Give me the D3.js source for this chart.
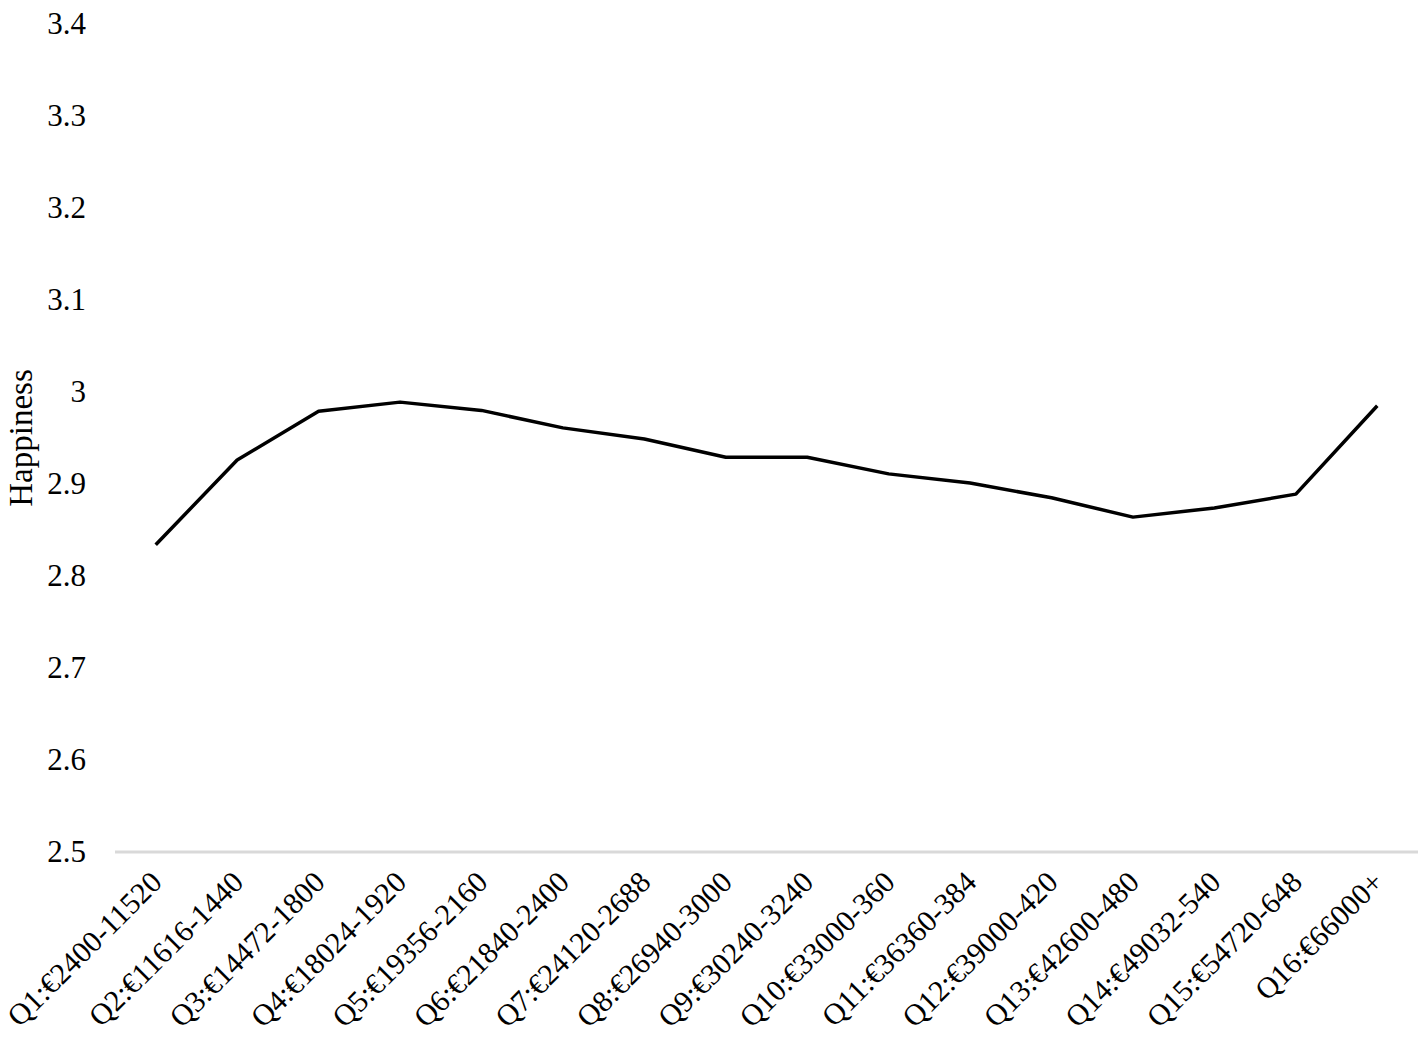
<!DOCTYPE html>
<html>
<head>
<meta charset="utf-8">
<script src="https://cdn.jsdelivr.net/npm/d3@7"></script>
<style>
  html, body { margin: 0; padding: 0; background: #fff; }
  svg { display: block; }
  text { font-family: "Liberation Serif", "Times New Roman", serif; fill: #000; }
</style>
</head>
<body>
<svg id="chart" width="1421" height="1042"></svg>
<script>
const categories = [
  "Q1:€2400-11520", "Q2:€11616-1440", "Q3:€14472-1800", "Q4:€18024-1920",
  "Q5:€19356-2160", "Q6:€21840-2400", "Q7:€24120-2688", "Q8:€26940-3000",
  "Q9:€30240-3240", "Q10:€33000-360", "Q11:€36360-384", "Q12:€39000-420",
  "Q13:€42600-480", "Q14:€49032-540", "Q15:€54720-648", "Q16:€66000+"
];
const happiness = [
  2.834, 2.926, 2.979, 2.989, 2.980, 2.961, 2.949, 2.929,
  2.929, 2.911, 2.901, 2.885, 2.864, 2.874, 2.889, 2.985
];
const yTicks = [2.5, 2.6, 2.7, 2.8, 2.9, 3.0, 3.1, 3.2, 3.3, 3.4];
const yTickLabels = ["2.5", "2.6", "2.7", "2.8", "2.9", "3", "3.1", "3.2", "3.3", "3.4"];
const yTitle = "Happiness";

(function () {
const svg = d3.select("#chart");
const mLeft = 115, mRight = 1418, mTop = 24, mBottom = 852;

const x = d3.scaleBand().domain(categories).range([mLeft, mRight]).padding(0);
const y = d3.scaleLinear().domain([2.5, 3.4]).range([mBottom, mTop]);

// Y axis labels (no line, no ticks)
const yAxis = d3.axisLeft(y).tickValues(yTicks)
  .tickFormat((d, i) => yTickLabels[i]).tickSize(0).tickPadding(29);
const gy = svg.append("g").attr("transform", `translate(${mLeft},0)`).call(yAxis);
gy.select(".domain").remove();
gy.selectAll("text").attr("font-family", "Liberation Serif").attr("font-size", 31).attr("fill", "#000");

// Baseline
svg.append("line")
  .attr("x1", mLeft).attr("x2", mRight)
  .attr("y1", y(2.5)).attr("y2", y(2.5))
  .attr("stroke", "#d9d9d9").attr("stroke-width", 3);

// X axis labels
const xAxis = d3.axisBottom(x).tickSize(0).tickPadding(0);
const gx = svg.append("g").attr("transform", `translate(0,${mBottom})`).call(xAxis);
gx.select(".domain").remove();
gx.selectAll(".tick text")
  .attr("font-family", "Liberation Serif").attr("font-size", 30).attr("fill", "#000")
  .attr("text-anchor", "end")
  .attr("dy", 0).attr("y", 0)
  .attr("transform", "translate(8,32) rotate(-45)");

// Line
const line = d3.line()
  .x((d, i) => x(categories[i]) + x.bandwidth() / 2)
  .y(d => y(d));
svg.append("path")
  .datum(happiness)
  .attr("d", line)
  .attr("fill", "none")
  .attr("stroke", "#000")
  .attr("stroke-width", 3.5)
  .attr("stroke-linejoin", "round");

// Y title
svg.append("text")
  .attr("transform", `translate(32,${(mTop + mBottom) / 2}) rotate(-90)`)
  .attr("text-anchor", "middle")
  .attr("font-size", 33)
  .text(yTitle);
})();
</script>
</body>
</html>
